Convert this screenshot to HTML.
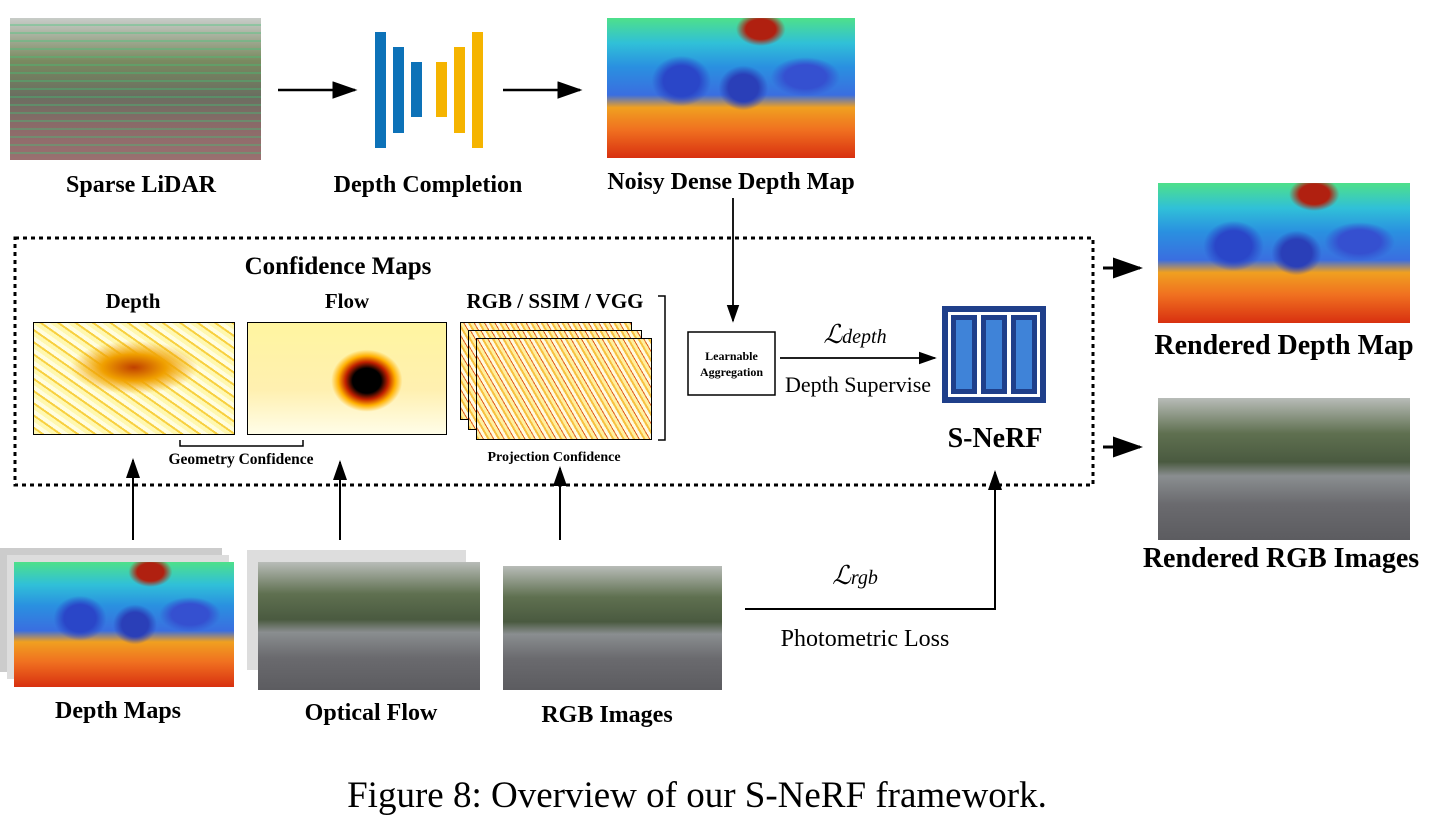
<!DOCTYPE html>
<html><head><meta charset="utf-8"><style>
body{margin:0;background:#fff;width:1436px;height:825px;position:relative;overflow:hidden;font-family:"Liberation Serif",serif}
.a{position:absolute}
.lbl{position:absolute;font-weight:bold;font-size:24px;white-space:nowrap;transform:translateX(-50%)}
.depth{background:radial-gradient(ellipse 12% 18% at 30% 45%,#2a46c8 60%,transparent 100%),radial-gradient(ellipse 10% 16% at 55% 50%,#2a3fb8 60%,transparent 100%),radial-gradient(ellipse 14% 14% at 80% 42%,#3550d0 60%,transparent 100%),radial-gradient(ellipse 10% 12% at 62% 8%,#b02010 60%,transparent 100%),linear-gradient(180deg,#4ee08a 0%,#30c0d8 18%,#2a90e0 35%,#3a6ee0 55%,#f0a020 64%,#f07020 80%,#d83010 100%)}
.heat{background:radial-gradient(ellipse 40% 30% at 50% 40%,#c04000 0%,#f0a000 40%,transparent 80%),repeating-linear-gradient(35deg,#fff8b0 0 4px,#f8d040 4px 6px,#fffde0 6px 10px),#fff6a0}
.flow{background:radial-gradient(ellipse 18% 28% at 60% 52%,#000 40%,#c02000 60%,#ffb000 80%,transparent 100%),linear-gradient(180deg,#fff5a0,#fff0b0 60%,#fffde8)}
.rgb{background:linear-gradient(180deg,#b8bcb8 0%,#5f7050 25%,#4a5a40 45%,#8a8e90 55%,#6a6a6e 75%,#5c5c60 100%)}
.hm{background:repeating-linear-gradient(60deg,#f8c040 0 2px,#fff0a0 2px 5px,#e06020 5px 6px,#fffbe0 6px 9px)}
</style></head><body>
<svg class="a" style="left:0;top:0" width="1436" height="825">
<defs><marker id="ar" markerWidth="10" markerHeight="7" refX="9" refY="3.5" orient="auto"><path d="M0,0 L10,3.5 L0,7z" fill="#000"/></marker></defs>
<line x1="278" y1="90" x2="355" y2="90" stroke="#000" stroke-width="2.5" marker-end="url(#ar)"/>
<line x1="503" y1="90" x2="580" y2="90" stroke="#000" stroke-width="2.5" marker-end="url(#ar)"/>
<g fill="#0d72b8"><rect x="375" y="32" width="11" height="116"/><rect x="393" y="47" width="11" height="86"/><rect x="411" y="62" width="11" height="55"/></g>
<g fill="#f5b400"><rect x="436" y="62" width="11" height="55"/><rect x="454" y="47" width="11" height="86"/><rect x="472" y="32" width="11" height="116"/></g>
<line x1="733" y1="198" x2="733" y2="321" stroke="#000" stroke-width="1.8" marker-end="url(#ar)"/>
<rect x="15" y="238" width="1078" height="247" fill="none" stroke="#000" stroke-width="3" stroke-dasharray="4,4"/>
<path d="M658,296 H665 V440 H658" fill="none" stroke="#000" stroke-width="1.5"/>
<path d="M180,440 V446 H303 V440" fill="none" stroke="#000" stroke-width="1.5"/>
<rect x="688" y="332" width="87" height="63" fill="#fff" stroke="#000" stroke-width="1.5"/>
<line x1="780" y1="358" x2="935" y2="358" stroke="#000" stroke-width="1.8" marker-end="url(#ar)"/>
<rect x="942" y="306" width="104" height="97" fill="#1f3f8a"/>
<rect x="948" y="312" width="92" height="85" fill="#fff"/>
<g fill="#1f3f8a"><rect x="951" y="315" width="26" height="79"/><rect x="981" y="315" width="26" height="79"/><rect x="1011" y="315" width="26" height="79"/></g>
<g fill="#3f83d8"><rect x="956" y="320" width="16" height="69"/><rect x="986" y="320" width="16" height="69"/><rect x="1016" y="320" width="16" height="69"/></g>
<line x1="1103" y1="268" x2="1140" y2="268" stroke="#000" stroke-width="3" marker-end="url(#ar)"/>
<line x1="1103" y1="447" x2="1140" y2="447" stroke="#000" stroke-width="3" marker-end="url(#ar)"/>
<line x1="133" y1="540" x2="133" y2="460" stroke="#000" stroke-width="2" marker-end="url(#ar)"/>
<line x1="340" y1="540" x2="340" y2="462" stroke="#000" stroke-width="2" marker-end="url(#ar)"/>
<line x1="560" y1="540" x2="560" y2="468" stroke="#000" stroke-width="2" marker-end="url(#ar)"/>
<path d="M745,609 H995 V472" fill="none" stroke="#000" stroke-width="2" marker-end="url(#ar)"/>
</svg>
<div class="a rgb" style="left:10px;top:18px;width:251px;height:142px;background:repeating-linear-gradient(0deg,transparent 0 6px,rgba(60,200,120,.35) 6px 8px),linear-gradient(180deg,#c8ccc8 0%,#7a8a60 30%,#6a6e60 55%,#8a6a68 75%,#9a7070 100%)"></div>
<div class="lbl" style="left:141px;top:172px">Sparse LiDAR</div>
<div class="lbl" style="left:428px;top:172px">Depth Completion</div>
<div class="a depth" style="left:607px;top:18px;width:248px;height:140px"></div>
<div class="lbl" style="left:731px;top:169px">Noisy Dense Depth Map</div>
<div class="lbl" style="left:338px;top:253px;font-size:25px">Confidence Maps</div>
<div class="lbl" style="left:133px;top:289px;font-size:21px">Depth</div>
<div class="lbl" style="left:347px;top:289px;font-size:21px">Flow</div>
<div class="lbl" style="left:555px;top:289px;font-size:21px">RGB / SSIM / VGG</div>
<div class="a heat" style="left:33px;top:322px;width:202px;height:113px;border:1px solid #000;box-sizing:border-box"></div>
<div class="a flow" style="left:247px;top:322px;width:200px;height:113px;border:1px solid #000;box-sizing:border-box"></div>
<div class="a hm" style="left:460px;top:322px;width:170px;height:96px;border:1px solid #000"></div>
<div class="a hm" style="left:468px;top:330px;width:172px;height:98px;border:1px solid #000"></div>
<div class="a hm" style="left:476px;top:338px;width:174px;height:100px;border:1px solid #000"></div>
<div class="lbl" style="left:241px;top:451px;font-size:15.5px">Geometry Confidence</div>
<div class="lbl" style="left:554px;top:450px;font-size:14px">Projection Confidence</div>
<div class="a" style="left:688px;top:348px;width:87px;text-align:center;font-weight:bold;font-size:12px;line-height:16px">Learnable<br>Aggregation</div>
<div class="lbl" style="left:855px;top:320px;font-weight:normal;font-style:italic;font-size:26px">ℒ<span style="font-size:20px">depth</span></div>
<div class="lbl" style="left:858px;top:372px;font-weight:normal;font-size:22px">Depth Supervise</div>
<div class="lbl" style="left:995px;top:423px;font-size:28px">S-NeRF</div>
<div class="a depth" style="left:1158px;top:183px;width:252px;height:140px"></div>
<div class="lbl" style="left:1284px;top:330px;font-size:28px">Rendered Depth Map</div>
<div class="a rgb" style="left:1158px;top:398px;width:252px;height:142px"></div>
<div class="lbl" style="left:1281px;top:543px;font-size:28px">Rendered RGB Images</div>
<div class="a" style="left:0;top:548px;width:222px;height:124px;background:#ccc"></div>
<div class="a" style="left:7px;top:555px;width:222px;height:124px;background:#ddd"></div>
<div class="a depth" style="left:14px;top:562px;width:220px;height:125px"></div>
<div class="lbl" style="left:118px;top:698px">Depth Maps</div>
<div class="a" style="left:247px;top:550px;width:219px;height:120px;background:#ddd"></div>
<div class="a rgb" style="left:258px;top:562px;width:222px;height:128px"></div>
<div class="lbl" style="left:371px;top:700px">Optical Flow</div>
<div class="a rgb" style="left:503px;top:566px;width:219px;height:124px"></div>
<div class="lbl" style="left:607px;top:702px">RGB Images</div>
<div class="lbl" style="left:855px;top:561px;font-weight:normal;font-style:italic;font-size:26px">ℒ<span style="font-size:20px">rgb</span></div>
<div class="lbl" style="left:865px;top:626px;font-weight:normal;font-size:24px">Photometric Loss</div>
<div class="lbl" style="left:697px;top:774px;font-weight:normal;font-size:37px">Figure 8: Overview of our S-NeRF framework.</div>
</body></html>
